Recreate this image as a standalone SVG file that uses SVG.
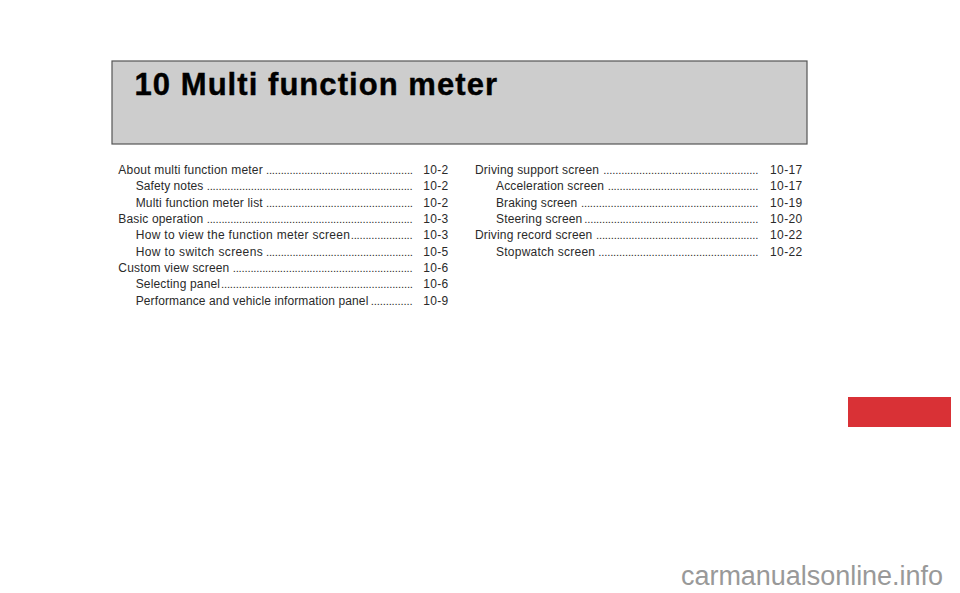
<svg xmlns="http://www.w3.org/2000/svg" width="960" height="593" viewBox="0 0 960 593">
<style>
text{font-family:"Liberation Sans",Arial,sans-serif;fill:#2a2a2a}
.t,.p{font-size:12px}
.d{font-size:11.3px}
</style>
<rect width="960" height="593" fill="#fff"/>
<g id="header">
<rect x="112" y="61" width="695" height="83" fill="#cdcdcd" stroke="#555" stroke-width="1.2"/>
<text x="134.5" y="95" textLength="362.5" style="font-size:31px;font-weight:bold;fill:#000;stroke:#000;stroke-width:.4">10 Multi function meter</text>
</g>
<g id="toc-left">
<text class="t" x="118.3" y="174" textLength="144.4">About multi function meter</text><text class="d" x="266" y="174" textLength="147">..................................................</text><text class="p" x="423.3" y="174" textLength="25">10-2</text>
<text class="t" x="135.7" y="190" textLength="67.6">Safety notes</text><text class="d" x="206.7" y="190" textLength="206">......................................................................</text><text class="p" x="423.3" y="190" textLength="25">10-2</text>
<text class="t" x="135.7" y="207" textLength="127">Multi function meter list</text><text class="d" x="266" y="207" textLength="147">..................................................</text><text class="p" x="423.3" y="207" textLength="25">10-2</text>
<text class="t" x="118.3" y="223" textLength="85">Basic operation</text><text class="d" x="206.7" y="223" textLength="206">......................................................................</text><text class="p" x="423.3" y="223" textLength="25">10-3</text>
<text class="t" x="135.7" y="239" textLength="214.3">How to view the function meter screen</text><text class="d" x="350.7" y="239" textLength="62">.....................</text><text class="p" x="423.3" y="239" textLength="25">10-3</text>
<text class="t" x="135.7" y="256" textLength="127">How to switch screens</text><text class="d" x="266" y="256" textLength="147">..................................................</text><text class="p" x="423.3" y="256" textLength="25">10-5</text>
<text class="t" x="118.3" y="272" textLength="111">Custom view screen</text><text class="d" x="232.7" y="272" textLength="180">.............................................................</text><text class="p" x="423.3" y="272" textLength="25">10-6</text>
<text class="t" x="135.7" y="288" textLength="84.3">Selecting panel</text><text class="d" x="221" y="288" textLength="192">.................................................................</text><text class="p" x="423.3" y="288" textLength="25">10-6</text>
<text class="t" x="135.7" y="305" textLength="232.6">Performance and vehicle information panel</text><text class="d" x="370.7" y="305" textLength="42">..............</text><text class="p" x="423.3" y="305" textLength="25">10-9</text>
</g>
<g id="toc-right">
<text class="t" x="475" y="174" textLength="124">Driving support screen</text><text class="d" x="603.3" y="174" textLength="155">....................................................</text><text class="p" x="770" y="174" textLength="32.3">10-17</text>
<text class="t" x="496" y="190" textLength="108">Acceleration screen</text><text class="d" x="607.7" y="190" textLength="150.6">...................................................</text><text class="p" x="770" y="190" textLength="32.3">10-17</text>
<text class="t" x="496" y="207" textLength="81.3">Braking screen</text><text class="d" x="581" y="207" textLength="177.3">............................................................</text><text class="p" x="770" y="207" textLength="32.3">10-19</text>
<text class="t" x="496" y="223" textLength="86.3">Steering screen</text><text class="d" x="584.3" y="223" textLength="174">...........................................................</text><text class="p" x="770" y="223" textLength="32.3">10-20</text>
<text class="t" x="475" y="239" textLength="117.3">Driving record screen</text><text class="d" x="596" y="239" textLength="162.3">.......................................................</text><text class="p" x="770" y="239" textLength="32.3">10-22</text>
<text class="t" x="496" y="256" textLength="99">Stopwatch screen</text><text class="d" x="598.3" y="256" textLength="160">......................................................</text><text class="p" x="770" y="256" textLength="32.3">10-22</text>
</g>
<g id="tab"><rect x="848" y="397" width="103" height="30" fill="#d93136"/></g>
<g id="watermark"><text x="681" y="585" textLength="262" style="font-size:27px;fill:#999">carmanualsonline.info</text></g>
</svg>
